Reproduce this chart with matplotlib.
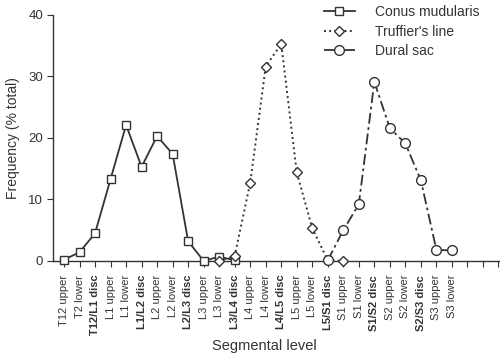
import numpy as np
import matplotlib
matplotlib.use("Agg")
import matplotlib.pyplot as plt

plt.rcParams['font.family'] = ['Liberation Sans', 'DejaVu Sans']

levels = ['T12 upper', 'T2 lower', 'T12/L1 disc', 'L1 upper', 'L1 lower', 'L1/L2 disc',
          'L2 upper', 'L2 lower', 'L2/L3 disc', 'L3 upper', 'L3 lower', 'L3/L4 disc',
          'L4 upper', 'L4 lower', 'L4/L5 disc', 'L5 upper', 'L5 lower', 'L5/S1 disc',
          'S1 upper', 'S1 lower', 'S1/S2 disc', 'S2 upper', 'S2 lower', 'S2/S3 disc',
          'S3 upper', 'S3 lower']
n_extra_ticks = 3

conus_levels = levels[0:12]
conus = [0.2, 1.4, 4.5, 13.3, 22.1, 15.3, 20.3, 17.4, 3.2, 0.0, 0.7, 0.1]

truffier_levels = levels[10:19]
truffier = [0.0, 0.8, 12.7, 31.6, 35.3, 14.4, 5.3, 0.1, 0.0]

dural_levels = levels[17:26]
dural = [0.1, 5.0, 9.2, 29.1, 21.6, 19.1, 13.1, 1.8, 1.7]

pos = {name: i for i, name in enumerate(levels)}
col = '#333333'

fig = plt.figure(figsize=(5, 3.55), dpi=100)
ax = fig.add_axes([0.106, 0.265, 0.894, 0.693])

ax.plot([pos[l] for l in conus_levels], conus, '-', marker='s', color=col, lw=1.3,
        ms=6, mfc='white', mec=col, mew=1.0, clip_on=False, label='Conus mudularis', zorder=3)
ax.plot([pos[l] for l in truffier_levels], truffier, ':', marker='D', color=col, lw=1.4,
        ms=5.5, mfc='white', mec=col, mew=1.0, clip_on=False, label="Truffier's line", zorder=3)
ax.plot([pos[l] for l in dural_levels], dural, color=col, lw=1.3, dashes=(6, 2, 1.5, 2),
        marker='o', ms=7, mfc='white', mec=col, mew=1.0, clip_on=False, label='Dural sac', zorder=3)

ticks = np.arange(len(levels) + n_extra_ticks)
ax.set_xticks(ticks)
ax.set_xticklabels(levels + [''] * n_extra_ticks, rotation=90, fontsize=8)
for lab in ax.get_xticklabels():
    if 'disc' in lab.get_text():
        lab.set_fontweight('bold')
ax.set_xlim(-0.71, 28.1)
ax.set_ylim(0, 40)
ax.set_yticks([0, 10, 20, 30, 40])
ax.tick_params(axis='y', labelsize=9.5, length=4, color=col, labelcolor=col, pad=3)
ax.tick_params(axis='x', length=4, color=col, labelcolor=col, pad=6)

for s in ['top', 'right']:
    ax.spines[s].set_visible(False)
for s in ['left', 'bottom']:
    ax.spines[s].set_color(col)
    ax.spines[s].set_linewidth(1.0)

ax.set_ylabel('Frequency (% total)', fontsize=10, color=col, labelpad=6)
fig.text(0.528, 0.026, 'Segmental level', fontsize=10.5, color=col, ha='center', va='center')

leg = ax.legend(loc='upper left', bbox_to_anchor=(0.594, 1.062), frameon=False, fontsize=10,
                handlelength=2.2, handletextpad=1.5, labelspacing=0.4, borderaxespad=0)
for t in leg.get_texts():
    t.set_color(col)

fig.savefig('out.png', dpi=100)
